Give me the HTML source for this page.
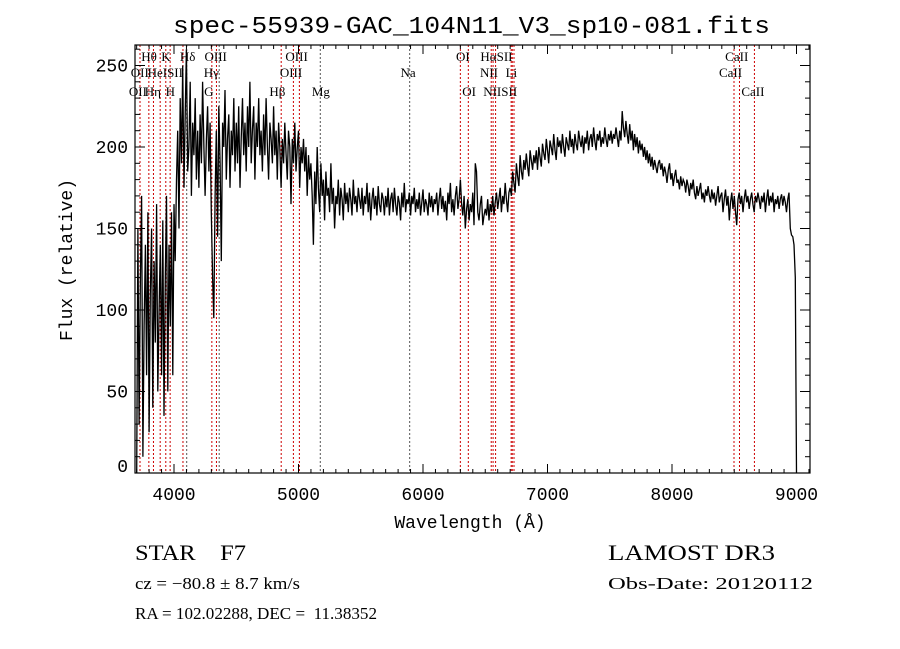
<!DOCTYPE html>
<html><head><meta charset="utf-8"><style>
html,body{margin:0;padding:0;background:#fff;}
svg{display:block;}
text{fill:#000;white-space:pre;}
.lbl{font-family:"Liberation Serif",serif;font-size:13px;}
.mono{font-family:"Liberation Mono",monospace;}
.ser{font-family:"Liberation Serif",serif;}
</style></head><body>
<svg id="chart" width="900" height="649" viewBox="0 0 900 649" xmlns="http://www.w3.org/2000/svg" xml:space="preserve">
<rect width="900" height="649" fill="#fff"/>
<text class="mono" x="173" y="33" font-size="24" textLength="597" lengthAdjust="spacingAndGlyphs">spec-55939-GAC_104N11_V3_sp10-081.fits</text>
<g id="lines"></g>
<g id="labels"></g>
<path id="spec" fill="none" stroke="#000" stroke-width="1.3" stroke-linejoin="miter"/>
<rect x="135" y="45" width="675" height="428" fill="none" stroke="#000" stroke-width="1.2"/>
<g id="axes"></g>
<text class="mono" x="470" y="528" font-size="18" text-anchor="middle">Wavelength (Å)</text>
<text class="mono" x="0" y="0" font-size="18" text-anchor="middle" transform="translate(72,260) rotate(-90)">Flux (relative)</text>
<text class="ser" x="135" y="560" font-size="22" textLength="111" lengthAdjust="spacingAndGlyphs">STAR    F7</text>
<text class="ser" x="608" y="560" font-size="22" textLength="167" lengthAdjust="spacingAndGlyphs">LAMOST DR3</text>
<text class="ser" x="135" y="589" font-size="17" textLength="165" lengthAdjust="spacingAndGlyphs">cz = −80.8 ± 8.7 km/s</text>
<text class="ser" x="608" y="589" font-size="17" textLength="205" lengthAdjust="spacingAndGlyphs">Obs-Date: 20120112</text>
<text class="ser" x="135" y="619" font-size="17" textLength="242" lengthAdjust="spacingAndGlyphs">RA = 102.02288, DEC =  11.38352</text>
</svg>
<script>
const startWave = 3700;
const stepWave = 10;
const flux = [
0,150,30,120,170,10,90,140,60,160,25,110,150,40,130,80,165,50,100,140,
60,155,35,120,170,50,140,90,160,60,165,130,180,210,150,230,190,250,175,220,
260,185,200,240,170,215,195,230,180,210,175,220,190,240,200,170,205,225,185,215,
160,120,95,170,210,145,225,190,130,215,200,235,180,205,220,175,210,195,230,185,
215,190,225,175,205,230,195,215,185,225,200,240,190,210,225,180,215,200,230,195,
210,185,220,195,230,200,180,215,205,190,225,195,210,180,215,200,175,205,190,215,
195,180,210,200,165,205,190,215,185,200,210,175,200,190,205,185,200,170,195,180,
190,170,140,185,165,200,175,160,190,170,180,155,185,170,175,160,190,165,175,150,
170,165,180,158,175,168,155,178,165,172,160,175,168,158,180,165,170,160,175,168,
162,175,158,170,165,178,160,172,155,168,175,162,170,158,176,165,160,172,168,158,
170,163,175,158,168,172,160,175,165,158,170,166,155,172,163,178,160,168,165,172,
158,170,165,175,160,168,162,172,158,166,174,160,168,165,158,172,163,170,160,168,
165,172,158,168,175,162,170,160,167,155,172,165,178,160,168,158,170,176,162,168,
180,165,158,170,150,162,168,155,165,160,172,152,190,185,160,155,165,170,152,158,
162,158,168,155,165,160,170,158,166,172,162,168,175,160,170,165,178,168,160,172,
175,170,185,178,172,190,182,176,195,185,180,192,186,196,188,182,198,192,186,195,
190,198,186,200,194,188,202,196,192,205,198,190,204,200,195,208,198,192,206,200,
204,196,208,200,194,206,202,198,210,200,205,196,208,202,198,210,204,200,207,196,
206,202,210,198,205,208,200,212,204,198,208,204,210,200,206,202,212,205,200,208,
204,210,202,208,205,212,206,200,210,204,222,212,206,216,208,202,214,204,210,198,
208,200,206,196,204,198,202,194,200,192,198,190,196,188,194,186,192,188,184,190,
192,186,190,182,188,184,178,186,190,180,184,176,182,186,178,180,174,182,176,180,
178,172,180,176,170,178,174,180,172,168,176,170,174,178,168,172,166,174,170,176,
170,166,174,168,172,164,170,176,166,170,172,160,168,174,164,170,155,166,172,162,
170,160,152,168,172,165,170,160,168,174,166,170,162,168,172,165,160,170,166,172,
168,162,170,166,172,160,168,174,164,170,166,172,160,168,165,170,162,168,171,164,
170,166,160,168,172,150,146,145,140,120,0];
const lineWaves = [3727,3798,3835,3889,3934,3969,4072,4102,4304,4341,4363,4861,4959,5007,5175,5893,6300,6364,6548,6563,6583,6708,6717,6731,8498,8542,8662];
const lineDark = [0,0,0,0,0,0,0,1,0,0,1,0,0,0,1,1,0,0,0,0,0,0,0,0,0,0,0];
const labelText = ["Hθ","K","Hδ","OIII","OIII","OI","HαSII","CaII","OII","HeISII","Hγ","OIII","Na","NII","Li","CaII","OII","Hη","H","G","Hβ","Mg","OI","NIISII","CaII"];
const labelWave = [3800,3935,4110,4335,4985,6320,6590,8520,3725,3930,4300,4940,5880,6530,6710,8470,3710,3830,3970,4280,4830,5180,6370,6620,8650];
const labelRow = [0,0,0,0,0,0,0,0,1,1,1,1,1,1,1,1,2,2,2,2,2,2,2,2,2];
const xTicks = [4000,5000,6000,7000,8000,9000];
const yTicks = [0,50,100,150,200,250];

const NS="http://www.w3.org/2000/svg";
const xs = w => 174 + (w-4000)*0.1245;
const ys = f => 473 - f*1.63;
function mk(tag, attrs, parent){const e=document.createElementNS(NS,tag);for(const k in attrs)e.setAttribute(k,attrs[k]);parent.appendChild(e);return e;}

let d="";
flux.forEach((f,i)=>{const x=xs(startWave+i*stepWave), y=Math.max(45,ys(f)); d+=(i?"L":"M")+x.toFixed(1)+","+y.toFixed(1);});
document.getElementById('spec').setAttribute('d',d);

const lg=document.getElementById('lines');
lineWaves.forEach((w,i)=>{
  const l=mk('line',{x1:xs(w),x2:xs(w),y1:45,y2:473,stroke:lineDark[i]?'#555':'#c00','stroke-width':1,'stroke-dasharray':'2,2'},lg);
  
  
});
const lb=document.getElementById('labels');
const rowY=[61,77,96];
labelText.forEach((t,i)=>{
  const e=mk('text',{x:xs(labelWave[i]),y:rowY[labelRow[i]],'text-anchor':'middle','class':'lbl'},lb);
  e.textContent=t;
  
  
});
const ax=document.getElementById('axes');
for(let w=3700;w<=9100;w+=100){
  const major=w%1000===0, L=major?9:4, x=xs(w);
  if(x<135||x>810)continue;
  mk('line',{x1:x,x2:x,y1:473,y2:473-L,stroke:'#000','stroke-width':1},ax);
  mk('line',{x1:x,x2:x,y1:45,y2:45+L,stroke:'#000','stroke-width':1},ax);
}
xTicks.forEach(w=>{
  const t=mk('text',{x:xs(w),y:500,'text-anchor':'middle','class':'mono','font-size':18},ax);
  t.textContent=w;
  
  
});
for(let f=0;f<=260;f+=10){
  const major=f%50===0,L=major?10:5,y=ys(f);
  if(y<45)continue;
  mk('line',{x1:135,x2:135+L,y1:y,y2:y,stroke:'#000','stroke-width':1},ax);
  mk('line',{x1:810,x2:810-L,y1:y,y2:y,stroke:'#000','stroke-width':1},ax);
}
yTicks.forEach(f=>{
  const t=mk('text',{x:128,y:f===0?472:ys(f)+6,'text-anchor':'end','class':'mono','font-size':18},ax);
  t.textContent=f;
  
  
});
</script>
</body></html>
